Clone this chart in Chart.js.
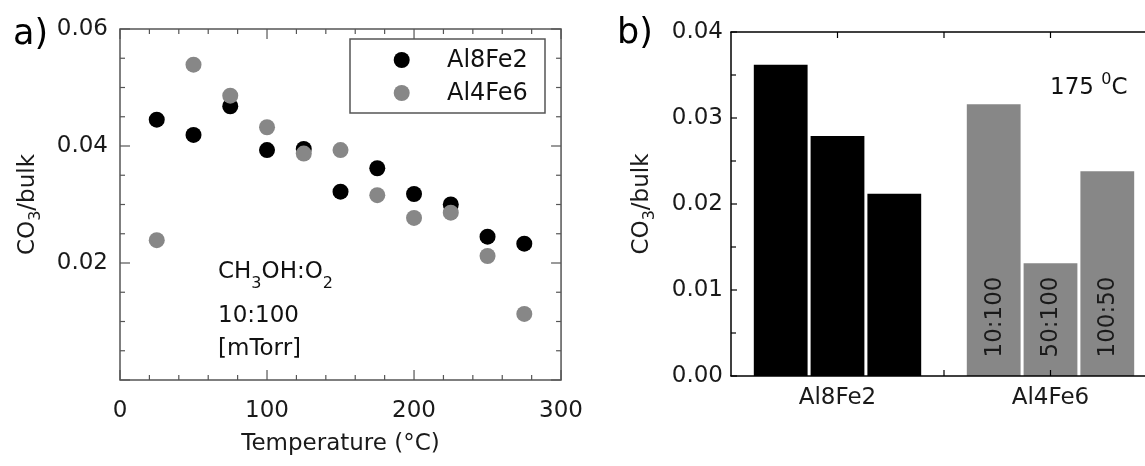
<!DOCTYPE html>
<html><head><meta charset="utf-8">
<script src="https://cdn.jsdelivr.net/npm/chart.js@4.4.0/dist/chart.umd.min.js"></script>
<style>
html,body{margin:0;padding:0;background:#fff;overflow:hidden;width:1145px;height:466px;}
#ca{position:absolute;left:0;top:0;}
#cb{position:absolute;left:600px;top:0;}
</style></head><body>
<canvas id="ca" width="600" height="466"></canvas>
<canvas id="cb" width="557" height="466"></canvas>
<script>
// ---------- data: panel a ----------
const temperatures = [25, 50, 75, 100, 125, 150, 175, 200, 225, 250, 275];
const al8fe2 = [0.0445, 0.0419, 0.0468, 0.0393, 0.0395, 0.0322, 0.0362, 0.0318, 0.0300, 0.0245, 0.0233];
const al4fe6 = [0.0239, 0.0539, 0.0486, 0.0432, 0.0387, 0.0393, 0.0316, 0.0277, 0.0286, 0.0212, 0.0113];
const seriesNames = ['Al8Fe2', 'Al4Fe6'];
const xTicksA = [0, 100, 200, 300];
const yTicksA = [0.02, 0.04, 0.06];
// ---------- data: panel b ----------
const samples = ['Al8Fe2', 'Al4Fe6'];
const ratios = ['10:100', '50:100', '100:50'];
const ratio10_100 = [0.0362, 0.0316];
const ratio50_100 = [0.0279, 0.0131];
const ratio100_50 = [0.0212, 0.0238];
const barSeries = [ratio10_100, ratio50_100, ratio100_50];
const yTicksB = [0, 0.01, 0.02, 0.03, 0.04];

const FONT = "'DejaVu Sans', sans-serif";
Chart.defaults.font.family = FONT;
Chart.defaults.color = '#1a1a1a';
const BLACK = '#000000', GRAY = '#878787';

function seg(ctx, x1, y1, x2, y2) { ctx.beginPath(); ctx.moveTo(x1, y1); ctx.lineTo(x2, y2); ctx.stroke(); }

// text with sub/superscripts: parts = [[text, shift]] (shift>0 down, <0 up, 0 normal)
function richText(ctx, parts, x, y) {
  parts.forEach(([t, sh]) => {
    ctx.font = (sh ? '16px ' : '23px ') + FONT;
    ctx.fillText(t, x, y + sh);
    x += ctx.measureText(t).width;
  });
  return x;
}
function richWidth(ctx, parts) {
  let w = 0;
  parts.forEach(([t, sh]) => { ctx.font = (sh ? '16px ' : '23px ') + FONT; w += ctx.measureText(t).width; });
  return w;
}
const yTitleParts = [['CO', 0], ['3', 8], ['/bulk', 0]];
function drawYTitle(ctx, cx, cy) {
  ctx.save();
  ctx.translate(cx, cy); ctx.rotate(-Math.PI / 2);
  ctx.fillStyle = '#1a1a1a'; ctx.textAlign = 'left'; ctx.textBaseline = 'middle';
  const w = richWidth(ctx, yTitleParts);
  richText(ctx, yTitleParts, -w / 2, 0);
  ctx.restore();
}

// ---------- panel a ----------
const frameA = {
  id: 'frameA',
  afterDatasetsDraw(chart) {
    const ctx = chart.ctx, a = chart.chartArea, xs = chart.scales.x, ys = chart.scales.y;
    ctx.save();
    ctx.strokeStyle = '#555'; ctx.lineWidth = 1.5;
    ctx.strokeRect(a.left, a.top, a.right - a.left, a.bottom - a.top);
    ctx.lineWidth = 1.2;
    for (let k = 0; k <= 15; k++) {
      const v = k * 20, px = xs.getPixelForValue(v), L = (v % 100 === 0) ? 10 : 5;
      seg(ctx, px, a.bottom, px, a.bottom - L); seg(ctx, px, a.top, px, a.top + L);
    }
    for (let k = 0; k <= 12; k++) {
      const v = k * 0.005, py = ys.getPixelForValue(v), L = (k % 4 === 0) ? 10 : 5;
      seg(ctx, a.left, py, a.left + L, py); seg(ctx, a.right, py, a.right - L, py);
    }
    ctx.restore();
  },
  afterDraw(chart) {
    const ctx = chart.ctx, a = chart.chartArea;
    ctx.save();
    // legend
    ctx.strokeStyle = '#555'; ctx.lineWidth = 1.5;
    ctx.strokeRect(350, 39, 195, 74);
    chart.data.datasets.forEach((ds, i) => {
      const y = 60 + i * 33;
      ctx.fillStyle = ds.pointBackgroundColor;
      ctx.beginPath(); ctx.arc(401.7, y, 8, 0, Math.PI * 2); ctx.fill();
      ctx.fillStyle = '#111'; ctx.font = '24px ' + FONT;
      ctx.textAlign = 'left'; ctx.textBaseline = 'middle';
      ctx.fillText(ds.label, 447, y + 1);
    });
    // panel label
    ctx.fillStyle = '#000'; ctx.textBaseline = 'alphabetic';
    ctx.font = '35px ' + FONT; ctx.fillText('a)', 13, 44);
    // annotation
    ctx.fillStyle = '#111';
    richText(ctx, [['CH', 0], ['3', 10], ['OH:O', 0], ['2', 10]], 218, 278);
    ctx.font = '23px ' + FONT;
    ctx.fillText('10:100', 218, 322);
    ctx.fillText('[mTorr]', 218, 355);
    ctx.restore();
    drawYTitle(ctx, 28, (a.top + a.bottom) / 2);
  }
};

new Chart(document.getElementById('ca'), {
  type: 'scatter',
  data: {
    datasets: [
      { label: seriesNames[0], data: temperatures.map((t, i) => ({ x: t, y: al8fe2[i] })),
        pointBackgroundColor: BLACK, backgroundColor: BLACK, pointBorderWidth: 0, pointRadius: 8, order: 1 },
      { label: seriesNames[1], data: temperatures.map((t, i) => ({ x: t, y: al4fe6[i] })),
        pointBackgroundColor: GRAY, backgroundColor: GRAY, pointBorderWidth: 0, pointRadius: 8, order: 0 }
    ]
  },
  options: {
    responsive: false, animation: false,
    layout: { padding: { left: 0, top: 29, right: 29, bottom: 0 } },
    plugins: { legend: { display: false }, tooltip: { enabled: false } },
    scales: {
      x: {
        type: 'linear', min: 0, max: 300,
        afterBuildTicks: s => { s.ticks = xTicksA.map(v => ({ value: v })); },
        grid: { display: false, drawTicks: false }, border: { display: false },
        ticks: { padding: 17, font: { size: 23 }, color: '#1a1a1a' },
        title: { display: true, text: 'Temperature (°C)', font: { size: 23 }, color: '#1a1a1a', padding: { top: 0, bottom: 8 } },
        afterFit: s => { s.height = 86; }
      },
      y: {
        min: 0, max: 0.06,
        afterBuildTicks: s => { s.ticks = yTicksA.map(v => ({ value: v })); },
        grid: { display: false, drawTicks: false }, border: { display: false },
        ticks: { padding: 12, font: { size: 23 }, color: '#1a1a1a', callback: v => v.toFixed(2) },
        title: { display: false },
        afterFit: s => { s.width = 120; }
      }
    }
  },
  plugins: [frameA]
});

// ---------- panel b ----------
const frameB = {
  id: 'frameB',
  afterDatasetsDraw(chart) {
    const ctx = chart.ctx, a = chart.chartArea, xs = chart.scales.x, ys = chart.scales.y;
    ctx.save();
    ctx.strokeStyle = '#000'; ctx.lineWidth = 1.5;
    seg(ctx, a.left, a.top, a.left, a.bottom);
    seg(ctx, a.left - 0.75, a.bottom, a.right + 5, a.bottom);
    seg(ctx, a.left - 0.75, a.top, a.right + 5, a.top);
    ctx.lineWidth = 1.2;
    for (let k = 0; k <= 8; k++) {
      const py = ys.getPixelForValue(k * 0.005), L = (k % 2 === 0) ? 6 : 5;
      seg(ctx, a.left, py, a.left + L, py);
    }
    const c0 = xs.getPixelForValue(0), c1 = xs.getPixelForValue(1);
    [c0, (c0 + c1) / 2, c1].forEach(px => {
      seg(ctx, px, a.top, px, a.top + 6);
      seg(ctx, px, a.bottom, px, a.bottom - 6);
    });
    // ratio labels inside the Al4Fe6 bars
    ctx.fillStyle = '#1a1a1a'; ctx.font = '23px ' + FONT;
    ctx.textAlign = 'center'; ctx.textBaseline = 'middle';
    chart.data.datasets.forEach((ds, i) => {
      const bar = chart.getDatasetMeta(i).data[1];
      ctx.save(); ctx.translate(bar.x + 1, 317); ctx.rotate(-Math.PI / 2);
      ctx.fillText(ds.label, 0, 0); ctx.restore();
    });
    ctx.restore();
  },
  afterDraw(chart) {
    const ctx = chart.ctx, a = chart.chartArea;
    ctx.save();
    ctx.fillStyle = '#000'; ctx.textBaseline = 'alphabetic'; ctx.textAlign = 'left';
    ctx.font = '35px ' + FONT; ctx.fillText('b)', 17, 43);
    ctx.fillStyle = '#111';
    richText(ctx, [['175 ', 0], ['0', -10], ['C', 0]], 450, 94);
    ctx.restore();
    drawYTitle(ctx, 42, (a.top + a.bottom) / 2);
  }
};

new Chart(document.getElementById('cb'), {
  type: 'bar',
  data: {
    labels: samples,
    datasets: ratios.map((r, i) => ({
      label: r, data: barSeries[i], backgroundColor: [BLACK, GRAY], borderWidth: 0,
      barPercentage: 0.947, categoryPercentage: 0.8
    }))
  },
  options: {
    responsive: false, animation: false,
    layout: { padding: { left: 0, top: 32, right: 0, bottom: 0 } },
    plugins: { legend: { display: false }, tooltip: { enabled: false } },
    scales: {
      x: {
        type: 'category', offset: true,
        grid: { display: false, drawTicks: false }, border: { display: false },
        ticks: { padding: 8, font: { size: 23 }, color: '#1a1a1a' },
        afterFit: s => { s.height = 90; }
      },
      y: {
        min: 0, max: 0.04,
        afterBuildTicks: s => { s.ticks = yTicksB.map(v => ({ value: v })); },
        grid: { display: false, drawTicks: false }, border: { display: false },
        ticks: { padding: 8, font: { size: 23 }, color: '#1a1a1a', callback: v => v.toFixed(2) },
        title: { display: false },
        afterFit: s => { s.width = 131; }
      }
    }
  },
  plugins: [frameB]
});
</script>
</body></html>
